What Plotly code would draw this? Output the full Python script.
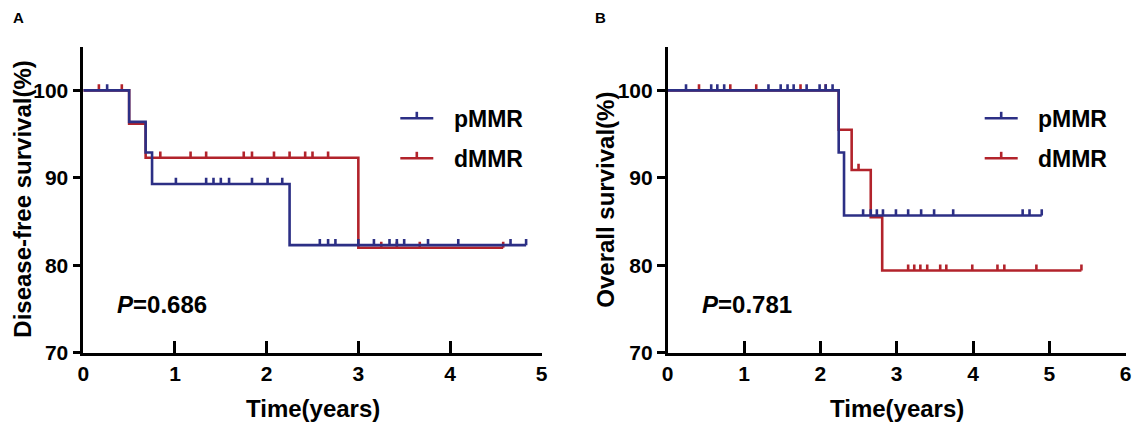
import plotly.graph_objects as go

W, H = 1132, 423

# Disease-free survival (panel A)
dfs_p_times = [0.50, 0.68, 0.75, 2.25]
dfs_p_surv = [96.4, 92.9, 89.3, 82.3]
dfs_p_end = 4.83
dfs_p_cens = [0.26, 1.01, 1.34, 1.42, 1.50, 1.59, 1.84, 2.01, 2.17,
              2.58, 2.67, 2.75, 3.00, 3.17, 3.34, 3.42, 3.50, 3.76, 4.09, 4.66, 4.83]

dfs_d_times = [0.50, 0.68, 3.00]
dfs_d_surv = [96.2, 92.3, 82.0]
dfs_d_end = 4.58
dfs_d_cens = [0.17, 0.42, 0.84, 1.17, 1.34, 1.75, 1.84, 2.08, 2.25, 2.42, 2.50, 2.67,
              3.25, 3.42, 3.67, 4.58]

# Overall survival (panel B)
os_p_times = [2.24, 2.31]
os_p_surv = [92.9, 85.7]
os_p_end = 4.90
os_p_cens = [0.24, 0.57, 0.65, 0.74, 1.32, 1.48, 1.57, 1.65, 1.82, 1.99, 2.07, 2.16,
             2.56, 2.66, 2.74, 2.82, 2.99, 3.15, 3.32, 3.49, 3.74, 4.65, 4.74, 4.90]

os_d_times = [2.24, 2.41, 2.66, 2.81]
os_d_surv = [95.5, 90.9, 85.5, 79.4]
os_d_end = 5.42
os_d_cens = [0.41, 0.82, 1.16, 1.74, 2.07, 2.50,
             3.15, 3.23, 3.31, 3.40, 3.57, 3.65, 3.99, 4.32, 4.41, 4.83, 5.42]

y_ticks = [70, 80, 90, 100]
p_values = ["0.686", "0.781"]
y_titles = ["Disease-free survival(%)", "Overall survival(%)"]
groups = ["pMMR", "dMMR"]

BLUE = "#2c2f85"
RED = "#b2232b"
FONT = "Arial, Liberation Sans, sans-serif"
LW = 2.6
CENS_H = 0.7


def level_at(t, times, surv):
    s = 100
    for tt, ss in zip(times, surv):
        if t >= tt:
            s = ss
    return s


def add_km(fig, times, surv, end, cens, color, xa, ya):
    xs = [0] + times + [end]
    ys = [100] + surv + [surv[-1]]
    fig.add_trace(go.Scatter(x=xs, y=ys, mode="lines", line=dict(color=color, width=LW, shape="hv"),
                             xaxis=xa, yaxis=ya, showlegend=False, hoverinfo="skip"))
    cx, cy = [], []
    for t in cens:
        s = level_at(t, times, surv)
        cx += [t, t, None]
        cy += [s, s + CENS_H, None]
    fig.add_trace(go.Scatter(x=cx, y=cy, mode="lines", line=dict(color=color, width=LW),
                             xaxis=xa, yaxis=ya, showlegend=False, hoverinfo="skip"))


fig = go.Figure()
add_km(fig, dfs_d_times, dfs_d_surv, dfs_d_end, dfs_d_cens, RED, "x", "y")
add_km(fig, dfs_p_times, dfs_p_surv, dfs_p_end, dfs_p_cens, BLUE, "x", "y")
add_km(fig, os_d_times, os_d_surv, os_d_end, os_d_cens, RED, "x2", "y2")
add_km(fig, os_p_times, os_p_surv, os_p_end, os_p_cens, BLUE, "x2", "y2")

# pixel layout of the two panels
panels = [dict(x0=83.3, x1=541.7, xmax=5), dict(x0=667.7, x1=1125.7, xmax=6)]
y_bot, y_top = 352.7, 46.7

tickfont = dict(family=FONT, size=21, color="black", weight="bold")
common_x = dict(showline=True, linecolor="black", linewidth=LW, ticks="inside", ticklen=12,
                tickwidth=LW, tickcolor="black", showgrid=False, zeroline=False,
                tickfont=tickfont, ticklabelstandoff=0, automargin=False)
common_y = dict(showline=True, linecolor="black", linewidth=LW, ticks="outside", ticklen=8,
                tickwidth=LW, tickcolor="black", showgrid=False, zeroline=False,
                tickfont=tickfont, range=[70, 105], tickvals=y_ticks, automargin=False)

layout = dict(template="none", width=W, height=H, margin=dict(l=0, r=0, t=0, b=0, autoexpand=False),
              paper_bgcolor="white", plot_bgcolor="white", showlegend=False)
ydom = [1 - y_bot / H, 1 - y_top / H]
for i, p in enumerate(panels):
    sfx = "" if i == 0 else "2"
    layout["xaxis" + sfx] = dict(common_x, domain=[p["x0"] / W, p["x1"] / W], range=[0, p["xmax"]],
                                 tickvals=list(range(p["xmax"] + 1)), anchor="y" + sfx)
    layout["yaxis" + sfx] = dict(common_y, domain=ydom, anchor="x" + sfx)
fig.update_layout(**layout)


def px(x, y):
    return x / W, 1 - y / H


def note(x, y, text, size, xanchor="center", **kw):
    fx, fy = px(x, y)
    return dict(x=fx, y=fy, text=text, showarrow=False, xref="paper", yref="paper",
                xanchor=xanchor, yanchor="middle", font=dict(family=FONT, size=size, color="black"), **kw)


annots = []
shapes = []
letters = ["A", "B"]
letter_x = [18, 600]
ytitle_x = [23, 606]
for i, p in enumerate(panels):
    cx = (p["x0"] + p["x1"]) / 2
    annots.append(note(letter_x[i], 18, "<b>%s</b>" % letters[i], 15))
    annots.append(note(ytitle_x[i], (y_bot + y_top) / 2, "<b>%s</b>" % y_titles[i], 24, textangle=-90))
    annots.append(note(cx, 408, "<b>Time(years)</b>", 24))
    annots.append(note(p["x0"] + 32, 304, "<b><i>P</i>=%s</b>" % p_values[i], 24, xanchor="left"))
    # legend
    lx0 = p["x0"] + 317
    for j, (g, col) in enumerate(zip(groups, [BLUE, RED])):
        ly = 118.3 + j * 40
        x0, y0 = px(lx0, ly)
        x1, _ = px(lx0 + 33, ly)
        xm, ym = px(lx0 + 16.5, ly - 6.5)
        shapes.append(dict(type="line", xref="paper", yref="paper", x0=x0, x1=x1, y0=y0, y1=y0,
                           line=dict(color=col, width=LW)))
        shapes.append(dict(type="line", xref="paper", yref="paper", x0=xm, x1=xm, y0=y0, y1=ym,
                           line=dict(color=col, width=LW)))
        annots.append(note(lx0 + 51.5, ly + 1, "<b>%s</b>" % g, 23, xanchor="left"))

fig.update_layout(annotations=annots, shapes=shapes)
fig.write_html("out.html", config={"displayModeBar": False},
               post_script="document.body.style.margin='0px';")
